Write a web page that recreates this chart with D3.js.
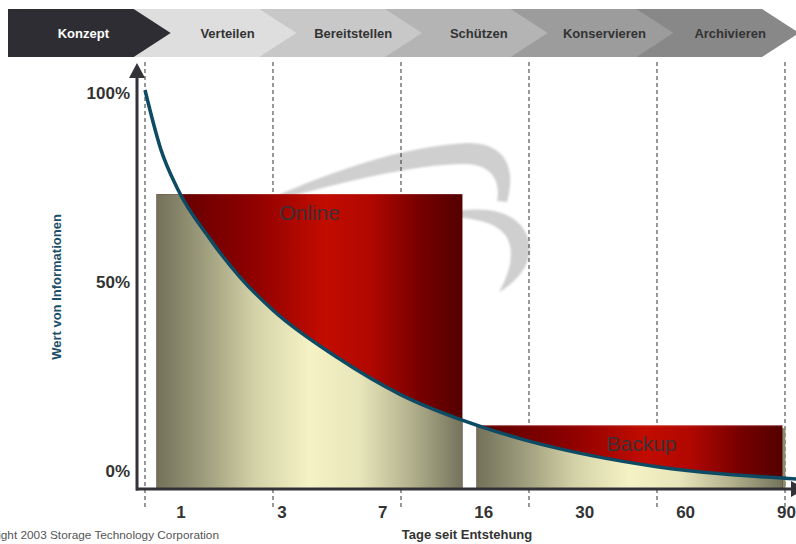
<!DOCTYPE html>
<html>
<head>
<meta charset="utf-8">
<script src="https://cdn.jsdelivr.net/npm/d3@7"></script>
<style>
body { margin: 0; background: #fff; }
svg { display: block; font-family: "Liberation Sans", Arial, sans-serif; }
</style>
</head>
<body>
<script>
// lifecycle stages in the banner
var stages = ["Konzept", "Verteilen", "Bereitstellen", "Schützen", "Konservieren", "Archivieren"];
// days since creation (x tick labels)
var days = ["1", "3", "7", "16", "30", "60", "90"];
// value ticks in percent
var valueTicks = [0, 50, 100];
// value curve: position in stage units (0..5) and value in percent
var curvePhase = [0, 0.125, 0.25, 0.5, 0.75, 1, 1.5, 2, 2.5, 3, 3.5, 4, 4.5, 5, 5.1];
var curveValue = [100, 85, 75.5, 63, 52.8, 44.8, 33, 23.6, 17, 12, 8.3, 5.6, 3.8, 2.7, 2.5];
// storage tiers
var tiers = ["Online", "Backup"];
var tierStart = [0.09, 2.59];
var tierEnd = [2.48, 4.98];
var tierValue = [73.9, 16.0];

var w = 796, h = 544;
var stageFill = ["#2e2d33", "#dedede", "#c8c8c8", "#b4b4b4", "#9c9c9c", "#888888"];
var axisColor = "#333238";

var svg = d3.select("body").append("svg")
            .attr("width", w)
            .attr("height", h);

var x = d3.scaleLinear().domain([0, 5]).range([145, 785]);
var y = d3.scaleLinear().domain([0, 100]).range([489, 90]);
var yLab = d3.scaleLinear().domain([0, 100]).range([471, 93]);
var dayScale = d3.scalePoint().domain(days).range([180.5, 786]);
var stageScale = d3.scaleBand().domain(stages).range([8, 762]);

var defs = svg.append("defs");

// red gradient for the upper part of the bars
var red = defs.append("linearGradient").attr("id", "redGrad");
[[0, "#5a0000"], [0.3, "#8c0000"], [0.55, "#c20c00"], [0.7, "#b00800"], [0.86, "#780000"], [1, "#530000"]]
  .forEach(function(s) { red.append("stop").attr("offset", s[0]).attr("stop-color", s[1]); });

defs.append("filter").attr("id", "soft")
    .append("feGaussianBlur").attr("stdDeviation", 0.8);

// watermark swirl
var wm = svg.append("g").attr("fill", "#cfcfcf").attr("filter", "url(#soft)");
wm.append("path")
  .attr("d", "M255,206 C325,172 408,145 468,143 C504,143 517,166 507,202 L497,201 C501,181 492,165 466,164 C418,163 338,183 255,206 Z");
wm.append("path")
  .attr("d", "M440,214 C485,204 518,210 528,238 C535,262 518,281 499,292 C511,271 515,250 506,236 C496,222 476,218 440,216 Z");

// stage boundaries
svg.append("g").selectAll("line")
   .data(d3.range(0, 6))
   .enter().append("line")
   .attr("x1", function(d) { return x(d); })
   .attr("x2", function(d) { return x(d); })
   .attr("y1", 62)
   .attr("y2", 510)
   .attr("stroke", "#333")
   .attr("stroke-width", 1)
   .attr("stroke-dasharray", "4,3");

var curvePts = curvePhase.map(function(p, i) { return [p, curveValue[i]]; });
var line = d3.line()
             .x(function(d) { return x(d[0]); })
             .y(function(d) { return y(d[1]); })
             .curve(d3.curveMonotoneX);
var area = d3.area()
             .x(function(d) { return x(d[0]); })
             .y0(y(0))
             .y1(function(d) { return y(d[1]); })
             .curve(d3.curveMonotoneX);

// bars
tiers.forEach(function(t, i) {
  var x0 = x(tierStart[i]), x1 = x(tierEnd[i]), top = y(tierValue[i]);
  var g = svg.append("g");
  if (t === "Backup") {
    g.append("rect")
     .attr("x", x0 + 3).attr("y", top + 3)
     .attr("width", x1 - x0).attr("height", y(0) - top - 3)
     .attr("fill", "#8d8c6e");
  }
  g.append("rect")
   .attr("x", x0).attr("y", top)
   .attr("width", x1 - x0).attr("height", y(0) - top)
   .attr("fill", "url(#redGrad)");
  var kg = defs.append("linearGradient").attr("id", "khaki" + i)
               .attr("gradientUnits", "userSpaceOnUse")
               .attr("x1", x0).attr("x2", x1).attr("y1", 0).attr("y2", 0);
  [[0, "#72715a"], [0.15, "#9c9b7b"], [0.32, "#d3d1a7"], [0.5, "#f5f3c5"], [0.66, "#e8e6ba"], [0.84, "#b0af8b"], [1, "#74735c"]]
    .forEach(function(s) { kg.append("stop").attr("offset", s[0]).attr("stop-color", s[1]); });
  defs.append("clipPath").attr("id", "clip" + i)
      .append("rect")
      .attr("x", x0).attr("y", top)
      .attr("width", x1 - x0).attr("height", y(0) - top);
  g.append("path")
   .datum(curvePts)
   .attr("d", area)
   .attr("fill", "url(#khaki" + i + ")")
   .attr("clip-path", "url(#clip" + i + ")");
  if (t === "Backup") {
    g.append("line")
     .attr("x1", x0).attr("x2", x1).attr("y1", top + 0.5).attr("y2", top + 0.5)
     .attr("stroke", "#e9a7a7").attr("stroke-width", 1).attr("stroke-dasharray", "1,1");
  }
});

// tier labels
svg.append("g").selectAll("text")
   .data(tiers)
   .enter().append("text")
   .attr("x", function(d, i) { return (x(tierStart[i]) + x(tierEnd[i])) / 2 + (i == 0 ? 0 : 12); })
   .attr("y", function(d, i) { return y(tierValue[i]) + 26; })
   .attr("text-anchor", "middle")
   .attr("font-size", 21)
   .attr("fill", "#3a3035")
   .text(function(d) { return d; });

// value curve
svg.append("path")
   .datum(curvePts)
   .attr("d", line)
   .attr("fill", "none")
   .attr("stroke", "#0d4a63")
   .attr("stroke-width", 3.5);

// axes lines with arrow heads
svg.append("line")
   .attr("x1", 137).attr("x2", 137).attr("y1", y(0) + 1.5).attr("y2", 76)
   .attr("stroke", axisColor).attr("stroke-width", 3);
svg.append("path")
   .attr("d", "M129,78 L137,63 L145,78 Z")
   .attr("fill", axisColor);
svg.append("line")
   .attr("x1", 136).attr("x2", 792).attr("y1", y(0)).attr("y2", y(0))
   .attr("stroke", axisColor).attr("stroke-width", 3);
svg.append("path")
   .attr("d", "M791," + (y(0) - 8) + " L806," + y(0) + " L791," + (y(0) + 8) + " Z")
   .attr("fill", axisColor);

// y tick labels
var yAxis = svg.append("g")
   .attr("transform", "translate(130,0)")
   .call(d3.axisLeft(yLab).tickValues(valueTicks).tickSize(0).tickPadding(0)
           .tickFormat(function(d) { return d + "%"; }));
yAxis.select(".domain").remove();
yAxis.selectAll("text")
     .attr("font-family", "Liberation Sans, Arial, sans-serif")
     .attr("font-size", 17).attr("font-weight", "bold").attr("fill", "#333");

// x tick labels
var xAxis = svg.append("g")
   .attr("transform", "translate(0,506)")
   .call(d3.axisBottom(dayScale).tickSize(0).tickPadding(0));
xAxis.select(".domain").remove();
xAxis.selectAll("text")
     .attr("font-family", "Liberation Sans, Arial, sans-serif")
     .attr("font-size", 17).attr("font-weight", "bold").attr("fill", "#333");

// axis titles
svg.append("text")
   .attr("transform", "translate(61,287) rotate(-90)")
   .attr("text-anchor", "middle")
   .attr("font-size", 13).attr("font-weight", "bold")
   .attr("fill", "#1b4f6b")
   .text("Wert von Informationen");
svg.append("text")
   .attr("x", 467).attr("y", 539)
   .attr("text-anchor", "middle")
   .attr("font-size", 13).attr("font-weight", "bold")
   .attr("fill", "#333")
   .text("Tage seit Entstehung");
svg.append("text")
   .attr("x", 219).attr("y", 539)
   .attr("text-anchor", "end")
   .attr("font-family", "Liberation Sans Narrow, Arial Narrow, sans-serif")
   .attr("font-size", 11.8)
   .attr("fill", "#555")
   .text("Copyright 2003 Storage Technology Corporation");

// stage banner (drawn right to left so each tip overlaps the next stage)
var d = 37, bw = stageScale.bandwidth();
var banner = svg.append("g");
stages.slice().reverse().forEach(function(s) {
  var i = stages.indexOf(s);
  var x0 = stageScale(s);
  banner.append("path")
        .attr("d", "M" + x0 + ",9 H" + (x0 + bw) + " L" + (x0 + bw + d) + ",33 L" + (x0 + bw) + ",57 H" + x0 + " Z")
        .attr("fill", stageFill[i]);
});
banner.selectAll("text")
      .data(stages)
      .enter().append("text")
      .attr("x", function(s, i) {
        var x0 = stageScale(s);
        return i == 0 ? x0 + (bw + d) / 2 - 6 : x0 + d + bw / 2 - 6;
      })
      .attr("y", 38)
      .attr("text-anchor", "middle")
      .attr("font-size", 13).attr("font-weight", "bold")
      .attr("fill", function(s, i) { return i == 0 ? "#fff" : "#333"; })
      .text(function(s) { return s; });
</script>
</body>
</html>
